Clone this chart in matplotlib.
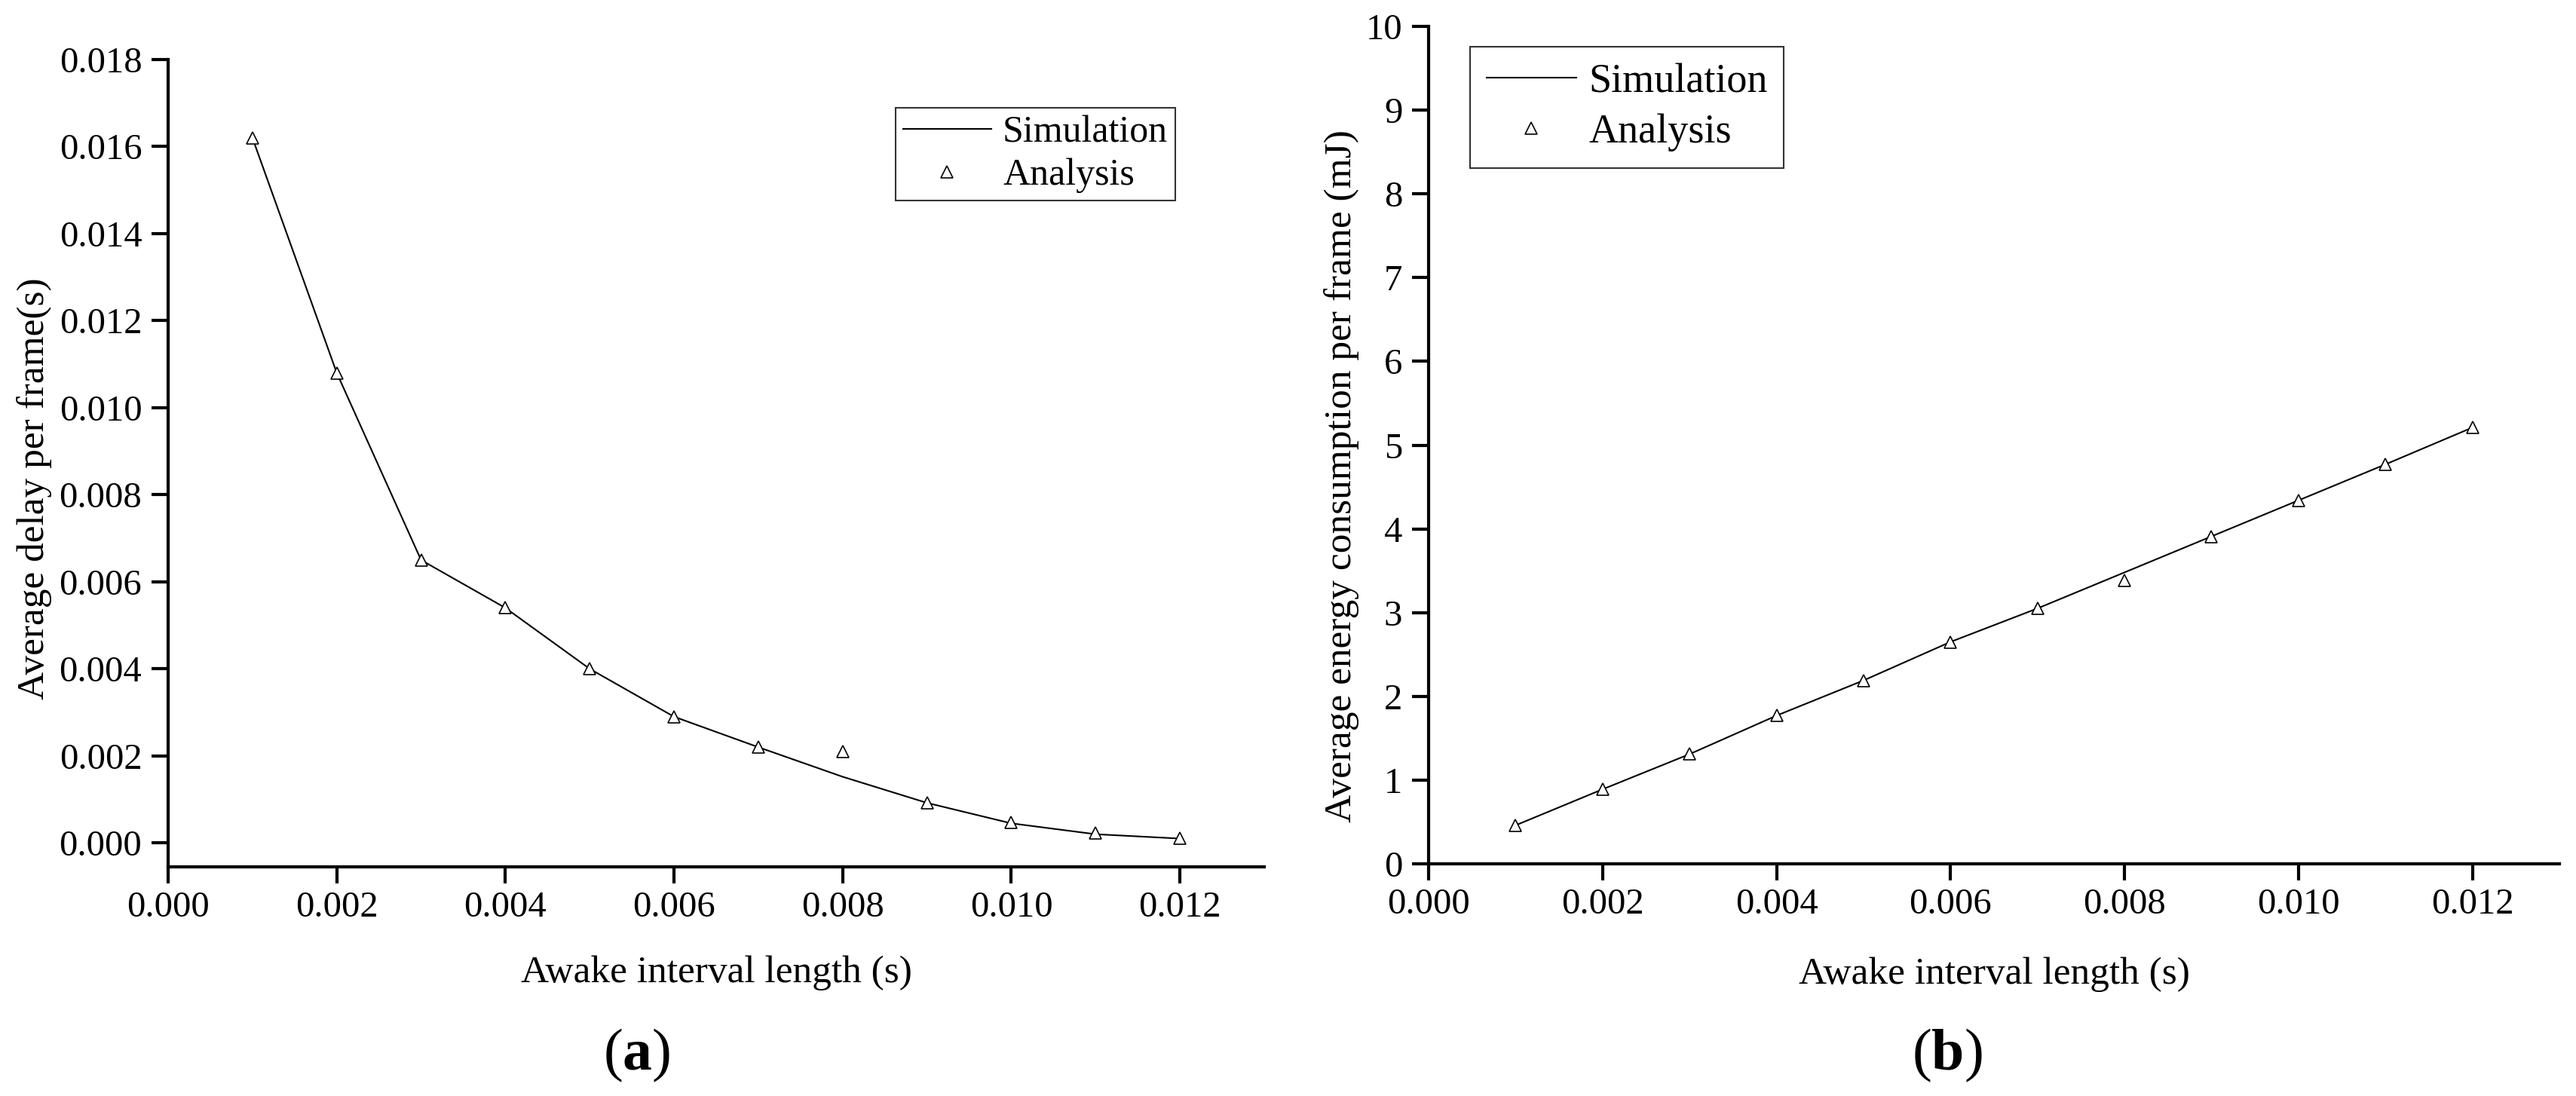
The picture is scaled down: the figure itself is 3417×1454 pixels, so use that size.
import matplotlib
matplotlib.use('Agg')
import matplotlib.pyplot as plt
from matplotlib.ticker import FixedLocator, FormatStrFormatter

plt.rcParams['font.family'] = ['Liberation Serif', 'DejaVu Serif']
plt.rcParams['mathtext.fontset'] = 'custom'
plt.rcParams['mathtext.rm'] = 'Liberation Serif'
plt.rcParams['mathtext.bf'] = 'Liberation Serif:bold'

# Data
awake = [0.001, 0.002, 0.003, 0.004, 0.005, 0.006,
         0.007, 0.008, 0.009, 0.010, 0.011, 0.012]

delay_sim = [0.0162, 0.0108, 0.0065, 0.0054, 0.0040, 0.0029,
             0.0022, 0.00152, 0.00092, 0.00045, 0.00020, 0.00010]
delay_ana = [0.0162, 0.0108, 0.0065, 0.0054, 0.0040, 0.0029,
             0.0022, 0.0021, 0.00092, 0.00047, 0.000225, 0.00010]

energy_sim = [0.46, 0.89, 1.31, 1.77, 2.19, 2.65,
              3.05, 3.48, 3.91, 4.34, 4.77, 5.21]
energy_ana = [0.46, 0.89, 1.31, 1.77, 2.19, 2.65,
              3.05, 3.38, 3.91, 4.34, 4.77, 5.21]

xticks = [0.000, 0.002, 0.004, 0.006, 0.008, 0.010, 0.012]
delay_yticks = [0.000, 0.002, 0.004, 0.006, 0.008, 0.010,
                0.012, 0.014, 0.016, 0.018]
energy_yticks = list(range(0, 11))

W, H = 3417, 1454
fig = plt.figure(figsize=(W / 100, H / 100), dpi=100)

tick_fs = 35
label_fs = 37


def style_axes(ax):
    for side in ['top', 'right']:
        ax.spines[side].set_visible(False)
    for side in ['left', 'bottom']:
        ax.spines[side].set_linewidth(3)
    ax.tick_params(direction='out', length=16, width=3, labelsize=tick_fs)
    ax.tick_params(axis='y', pad=9)
    ax.tick_params(axis='x', pad=7)
    ax.xaxis.set_major_locator(FixedLocator(xticks))
    ax.xaxis.set_major_formatter(FormatStrFormatter('%.3f'))
    ax.set_xlim(0, 0.013)


def draw(ax, y_sim, y_ana):
    ax.plot(awake, y_sim, '-', color='black', lw=1.5, label='Simulation', zorder=2)
    ax.plot(awake, y_ana, '^', ls='none', ms=11, mfc='white', mec='black',
            mew=1.2, label='Analysis', zorder=3)


# (a) delay
ax1 = fig.add_axes([223 / W, 1 - 1150 / H, 1454 / W, 1071 / H])
draw(ax1, delay_sim, delay_ana)
style_axes(ax1)
ax1.set_ylim(-0.00055, 0.018)
ax1.yaxis.set_major_locator(FixedLocator(delay_yticks))
ax1.yaxis.set_major_formatter(FormatStrFormatter('%.3f'))
ax1.set_ylabel('Average delay per frame(s)', fontsize=label_fs, va='center')
ax1.yaxis.set_label_coords(-0.1224, 0.469)
ax1.set_xlabel('Awake interval length (s)', fontsize=label_fs, va='center')
ax1.xaxis.set_label_coords(0.5, -0.131)
leg1 = ax1.legend(loc='upper right', bbox_to_anchor=(0.919, 0.940), borderaxespad=0,
                  fontsize=36, frameon=True, fancybox=False, numpoints=1,
                  handlelength=2.35, handletextpad=0.3, borderpad=0.2,
                  labelspacing=0.2)
leg1.get_frame().set_edgecolor('black')
leg1.get_frame().set_linewidth(1.5)

# (b) energy
ax2 = fig.add_axes([1895 / W, 1 - 1146 / H, 1500 / W, 1111 / H])
draw(ax2, energy_sim, energy_ana)
style_axes(ax2)
ax2.set_ylim(0, 10)
ax2.yaxis.set_major_locator(FixedLocator(energy_yticks))
ax2.set_ylabel('Average energy consumption per frame (mJ)', fontsize=label_fs, va='center')
ax2.yaxis.set_label_coords(-0.0767, 0.463)
ax2.set_xlabel('Awake interval length (s)', fontsize=label_fs, va='center')
ax2.xaxis.set_label_coords(0.5, -0.132)
leg2 = ax2.legend(loc='upper left', bbox_to_anchor=(0.0367, 0.9757), borderaxespad=0,
                  fontsize=39, frameon=True, fancybox=False, numpoints=1,
                  handlelength=2.2, handletextpad=0.3, borderpad=0.4,
                  labelspacing=0.3)
leg2.get_frame().set_edgecolor('black')
leg2.get_frame().set_linewidth(1.5)

# panel letters
fig.text(845 / W, 1 - 1400 / H, r'($\mathbf{a}$)', fontsize=56, ha='center', va='center')
fig.text(2583 / W, 1 - 1400 / H, r'($\mathbf{b}$)', fontsize=56, ha='center', va='center')

fig.savefig('out.png', dpi=100, facecolor='white')
